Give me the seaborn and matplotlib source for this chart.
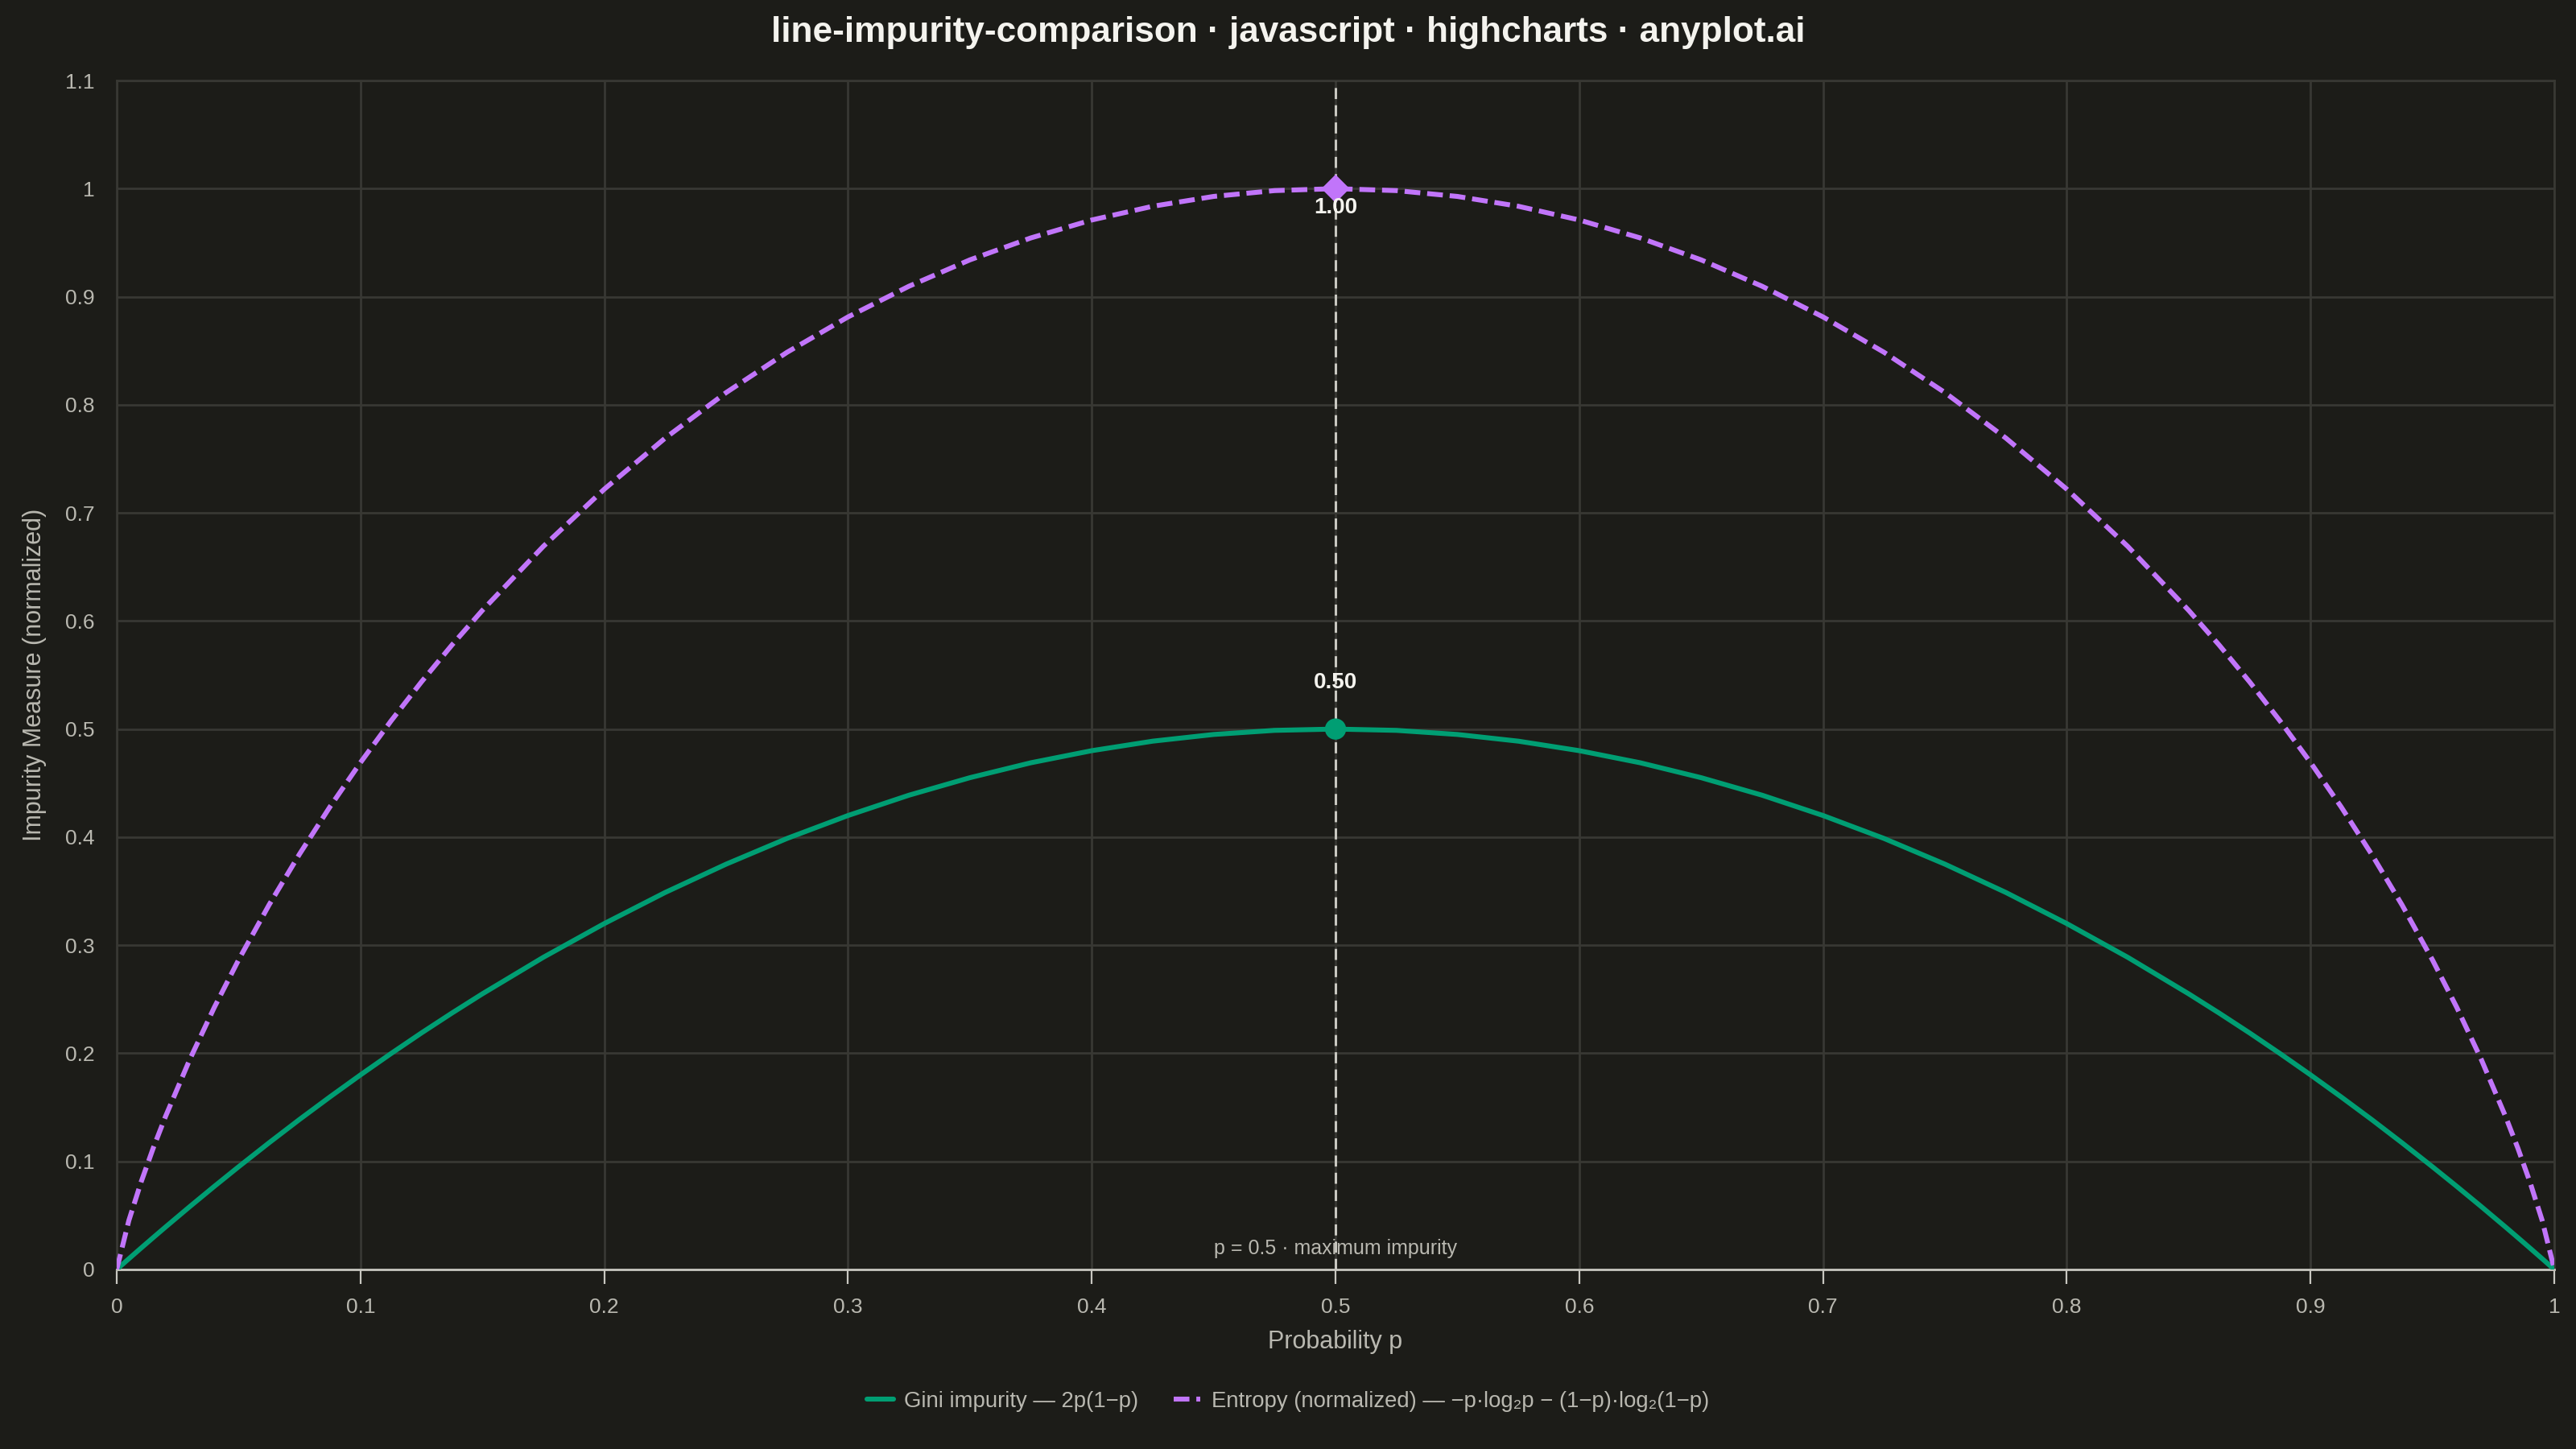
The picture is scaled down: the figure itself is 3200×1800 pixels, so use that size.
import numpy as np
import pandas as pd
import matplotlib
matplotlib.use("Agg")
import matplotlib.pyplot as plt
from matplotlib.lines import Line2D
import seaborn as sns

# values
p = [0, 0.005, 0.01, 0.015, 0.02, 0.03, 0.04, 0.05, 0.0625, 0.075, 0.0875, 0.1, 0.1125, 0.125, 0.1375, 0.15,
     0.175, 0.2, 0.225, 0.25, 0.275, 0.3, 0.325, 0.35, 0.375, 0.4, 0.425, 0.45, 0.475, 0.5,
     0.525, 0.55, 0.575, 0.6, 0.625, 0.65, 0.675, 0.7, 0.725, 0.75, 0.775, 0.8, 0.825, 0.85, 0.8625,
     0.875, 0.8875, 0.9, 0.9125, 0.925, 0.9375, 0.95, 0.96, 0.97, 0.98, 0.985, 0.99, 0.995, 1]
gini = [0, 0.00995, 0.0198, 0.02955, 0.0392, 0.0582, 0.0768, 0.095, 0.1172, 0.1388, 0.1597, 0.18, 0.1997, 0.2188, 0.2372, 0.255,
        0.2888, 0.32, 0.3488, 0.375, 0.3988, 0.42, 0.4388, 0.455, 0.4688, 0.48, 0.4888, 0.495, 0.4988, 0.5,
        0.4988, 0.495, 0.4888, 0.48, 0.4688, 0.455, 0.4388, 0.42, 0.3988, 0.375, 0.3488, 0.32, 0.2888, 0.255, 0.2372,
        0.2188, 0.1997, 0.18, 0.1597, 0.1388, 0.1172, 0.095, 0.0768, 0.0582, 0.0392, 0.02955, 0.0198, 0.00995, 0]
entropy = [0, 0.0454, 0.0808, 0.1124, 0.1414, 0.1944, 0.2423, 0.2864, 0.3373, 0.3843, 0.4281, 0.469, 0.5074, 0.5436, 0.5777, 0.6098,
           0.669, 0.7219, 0.7692, 0.8113, 0.8486, 0.8813, 0.9097, 0.9341, 0.9544, 0.971, 0.9837, 0.9928, 0.9982, 1.0,
           0.9982, 0.9928, 0.9837, 0.971, 0.9544, 0.9341, 0.9097, 0.8813, 0.8486, 0.8113, 0.7692, 0.7219, 0.669, 0.6098, 0.5777,
           0.5436, 0.5074, 0.469, 0.4281, 0.3843, 0.3373, 0.2864, 0.2423, 0.1944, 0.1414, 0.1124, 0.0808, 0.0454, 0]
peak_p = 0.5
peak_gini = 0.5
peak_entropy = 1.0

series_names = ["Gini impurity \u2014 2p(1\u2212p)",
                "Entropy (normalized) \u2014 \u2212p\u00b7log\u2082p \u2212 (1\u2212p)\u00b7log\u2082(1\u2212p)"]
x_ticks = [0, 0.1, 0.2, 0.3, 0.4, 0.5, 0.6, 0.7, 0.8, 0.9, 1]
y_ticks = [0, 0.1, 0.2, 0.3, 0.4, 0.5, 0.6, 0.7, 0.8, 0.9, 1, 1.1]

BG = "#1c1c18"
GRID = "#383833"
TXT = "#b9b8b0"
GREEN = "#009e73"
PURPLE = "#c175fa"

sns.set_theme(style="dark")
plt.rcParams["font.family"] = ["Liberation Sans", "DejaVu Sans"]

df = pd.DataFrame({
    "p": p * 2,
    "value": gini + entropy,
    "series": [series_names[0]] * len(p) + [series_names[1]] * len(p),
})

fig = plt.figure(figsize=(16, 9), dpi=200, facecolor=BG)
ax = fig.add_axes([0.0453, 0.1239, 0.9463, 0.8205])
ax.set_facecolor(BG)

sns.lineplot(data=df, x="p", y="value", hue="series", style="series",
             palette=[GREEN, PURPLE], dashes=[(1, 0), (3.2, 1.4)],
             linewidth=2.2, ax=ax, legend=False, zorder=3, sort=False)

ax.axvline(peak_p, color="#c8c7c0", lw=1.1, ls=(0, (4.5, 2.5)), zorder=2)

ax.scatter([peak_p], [peak_gini], s=90, color=GREEN, marker="o", zorder=4, edgecolors="none")
ax.scatter([peak_p], [peak_entropy], s=80, color=PURPLE, marker="D", zorder=4, edgecolors="none")
ax.annotate(f"{peak_gini:.2f}", (peak_p, peak_gini), xytext=(0, 16), textcoords="offset points",
            ha="center", va="bottom", color="#f4f3ee", fontsize=10, fontweight="bold", zorder=5)
ax.annotate(f"{peak_entropy:.2f}", (peak_p, peak_entropy), xytext=(0, -4), textcoords="offset points",
            ha="center", va="top", color="#f4f3ee", fontsize=10, fontweight="bold", zorder=5)
ax.annotate("p = 0.5 \u00b7 maximum impurity", (peak_p, 0), xytext=(0, 5), textcoords="offset points",
            ha="center", va="bottom", color=TXT, fontsize=9, zorder=5)

ax.set_xlim(0, 1)
ax.set_ylim(0, 1.1)
ax.set_xticks(x_ticks)
ax.set_xticklabels([f"{v:g}" for v in x_ticks])
ax.set_yticks(y_ticks)
ax.set_yticklabels([f"{v:g}" for v in y_ticks])
ax.grid(True, color=GRID, lw=1.0)
ax.tick_params(axis="x", labelsize=9.5, length=6.5, width=0.8, direction="out", pad=6,
               bottom=True, labelcolor=TXT, color="#c8c7c0")
ax.tick_params(axis="y", labelsize=9.5, length=0, pad=10, labelcolor=TXT)
for side in ["left", "right", "top"]:
    ax.spines[side].set_color(GRID)
    ax.spines[side].set_linewidth(1.0)
ax.spines["bottom"].set_color("#c8c7c0")
ax.spines["bottom"].set_linewidth(1.0)

ax.set_xlabel("Probability p", color=TXT, fontsize=11, labelpad=6)
ax.set_ylabel("Impurity Measure (normalized)", color=TXT, fontsize=11, labelpad=8)

fig.suptitle("line-impurity-comparison \u00b7 javascript \u00b7 highcharts \u00b7 anyplot.ai",
             color="#f4f3ee", fontsize=15.9, fontweight="bold", y=0.989, va="top")

handles = [Line2D([0], [0], color=GREEN, lw=2.2, solid_capstyle="round"),
           Line2D([0], [0], color=PURPLE, lw=2.2, ls=(0, (3.2, 1.4)))]
leg = fig.legend(handles, series_names, loc="center", bbox_to_anchor=(0.5, 0.033), ncol=2,
                 frameon=False, fontsize=9.9, labelcolor=TXT, handlelength=1.2, handletextpad=0.5,
                 columnspacing=1.6)

fig.savefig("out.png", dpi=200, facecolor=BG)
